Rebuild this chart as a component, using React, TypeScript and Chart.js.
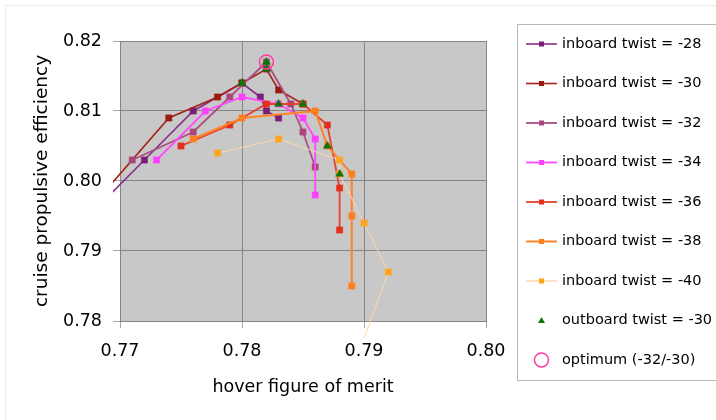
import { useEffect, useRef } from "react";
import { Chart, registerables } from "chart.js";

Chart.register(...registerables);

type Pt = [number, number];

// hover figure of merit (x) vs cruise propulsive efficiency (y), one run per outboard twist
const inboard28: Pt[] = [
  [0.768, 0.796], [0.772, 0.803], [0.776, 0.810], [0.780, 0.814],
  [0.7815, 0.812], [0.782, 0.810], [0.783, 0.809],
];
const inboard30: Pt[] = [
  [0.768, 0.797], [0.774, 0.809], [0.778, 0.812], [0.780, 0.814],
  [0.782, 0.816], [0.783, 0.813], [0.785, 0.811],
];
const inboard32: Pt[] = [
  [0.771, 0.803], [0.776, 0.807], [0.779, 0.812], [0.782, 0.817],
  [0.784, 0.811], [0.785, 0.807], [0.786, 0.802],
];
const inboard34: Pt[] = [
  [0.773, 0.803], [0.777, 0.810], [0.780, 0.812], [0.783, 0.811],
  [0.785, 0.809], [0.786, 0.806], [0.786, 0.798],
];
const inboard36: Pt[] = [
  [0.775, 0.805], [0.779, 0.808], [0.782, 0.811], [0.785, 0.811],
  [0.787, 0.808], [0.788, 0.799], [0.788, 0.793],
];
const inboard38: Pt[] = [
  [0.776, 0.806], [0.780, 0.809], [0.786, 0.810], [0.787, 0.805],
  [0.789, 0.801], [0.789, 0.795], [0.789, 0.785],
];
const inboard40: Pt[] = [
  [0.778, 0.804], [0.783, 0.806], [0.788, 0.803], [0.788, 0.801],
  [0.790, 0.794], [0.792, 0.787], [0.790, 0.7775],
];
const outboard30: Pt[] = [
  [0.780, 0.814], [0.782, 0.816], [0.782, 0.817], [0.783, 0.811],
  [0.785, 0.811], [0.787, 0.805], [0.788, 0.801],
];
const optimum: Pt[] = [[0.782, 0.817]];

const xTickValues = [0.77, 0.78, 0.79, 0.8];
const yTickValues = [0.78, 0.79, 0.8, 0.81, 0.82];

const inboardSeries = [
  { label: "inboard twist = -28", points: inboard28, line: "#8a2c8a", marker: "#7a1f78", width: 1.6 },
  { label: "inboard twist = -30", points: inboard30, line: "#a3241a", marker: "#9a1a10", width: 1.6 },
  { label: "inboard twist = -32", points: inboard32, line: "#ac4e82", marker: "#a8467c", width: 1.8 },
  { label: "inboard twist = -34", points: inboard34, line: "#ff48ff", marker: "#ff40ff", width: 1.8 },
  { label: "inboard twist = -36", points: inboard36, line: "#e8402c", marker: "#e2301c", width: 1.8 },
  { label: "inboard twist = -38", points: inboard38, line: "#ff8226", marker: "#ff7f1e", width: 2 },
  { label: "inboard twist = -40", points: inboard40, line: "#ffd7aa", marker: "#ffa41e", width: 1 },
];

const FONT = '"DejaVu Sans", "Noto Sans", sans-serif';

const toXY = (pts: Pt[]) => pts.map(([x, y]) => ({ x, y }));

// grey plot area plus a faint outer frame
const plotBackground = {
  id: "plotBackground",
  beforeDraw(chart: any) {
    const { ctx, chartArea } = chart;
    ctx.save();
    ctx.strokeStyle = "#ececec";
    ctx.lineWidth = 1;
    ctx.strokeRect(5.5, 5.5, 760, 460);
    ctx.fillStyle = "#c8c8c8";
    ctx.fillRect(chartArea.left, chartArea.top, chartArea.right - chartArea.left, chartArea.bottom - chartArea.top);
    ctx.restore();
  },
};

function drawMarker(ctx: CanvasRenderingContext2D, style: string, x: number, y: number, fill: string, stroke: string) {
  ctx.save();
  if (style === "rect") {
    ctx.fillStyle = fill;
    ctx.fillRect(x - 2.5, y - 2.5, 5, 5);
  } else if (style === "triangle") {
    ctx.fillStyle = fill;
    ctx.beginPath();
    ctx.moveTo(x, y - 3.5);
    ctx.lineTo(x + 3.5, y + 2.5);
    ctx.lineTo(x - 3.5, y + 2.5);
    ctx.closePath();
    ctx.fill();
  } else {
    ctx.strokeStyle = stroke;
    ctx.lineWidth = 1.5;
    ctx.beginPath();
    ctx.arc(x, y, 7, 0, Math.PI * 2);
    ctx.stroke();
  }
  ctx.restore();
}

// boxed legend at the right-hand side
const boxLegend = {
  id: "boxLegend",
  afterDraw(chart: any) {
    const ctx: CanvasRenderingContext2D = chart.ctx;
    ctx.save();
    ctx.strokeStyle = "#b8b8b8";
    ctx.lineWidth = 1;
    ctx.strokeRect(517.5, 24.5, 260, 356);
    ctx.font = `14.5px ${FONT}`;
    ctx.textBaseline = "middle";
    ctx.textAlign = "left";
    chart.data.datasets.forEach((ds: any, i: number) => {
      const y = 44 + i * 39.5;
      if (ds.showLine) {
        ctx.strokeStyle = ds.borderColor;
        ctx.lineWidth = Math.max(1.5, ds.borderWidth);
        ctx.beginPath();
        ctx.moveTo(526, y);
        ctx.lineTo(557, y);
        ctx.stroke();
      }
      drawMarker(ctx, ds.pointStyle, 541.5, y, ds.pointBackgroundColor, ds.pointBorderColor);
      ctx.fillStyle = "#000";
      ctx.fillText(ds.label, 562, y);
    });
    ctx.restore();
  },
};

export default function App() {
  const canvasRef = useRef<HTMLCanvasElement | null>(null);

  useEffect(() => {
    const canvas = canvasRef.current;
    if (!canvas) return;

    const datasets: any[] = inboardSeries.map((s, i) => ({
      label: s.label,
      data: toXY(s.points),
      showLine: true,
      borderColor: s.line,
      borderWidth: s.width,
      backgroundColor: s.marker,
      pointStyle: "rect",
      pointRadius: 4.4,
      pointBorderWidth: 0.5,
      pointBackgroundColor: s.marker,
      pointBorderColor: s.marker,
      clip: { left: 7, top: 0, right: 0, bottom: 25 },
      order: 9 - i,
    }));

    datasets.push({
      label: "outboard twist = -30",
      data: toXY(outboard30),
      showLine: false,
      pointStyle: "triangle",
      pointRadius: 4.6,
      pointBorderWidth: 0.5,
      pointBackgroundColor: "#0c760c",
      pointBorderColor: "#0c760c",
      borderColor: "#0c760c",
      backgroundColor: "#0c760c",
      order: 1,
    });

    datasets.push({
      label: "optimum (-32/-30)",
      data: toXY(optimum),
      showLine: false,
      pointStyle: "circle",
      pointRadius: 7,
      pointBorderWidth: 1.5,
      pointBackgroundColor: "rgba(0,0,0,0)",
      pointBorderColor: "#ff3ca0",
      borderColor: "#ff3ca0",
      backgroundColor: "rgba(0,0,0,0)",
      order: 0,
    });

    const chart = new Chart(canvas, {
      type: "scatter",
      data: { datasets },
      plugins: [plotBackground, boxLegend],
      options: {
        responsive: false,
        animation: false,
        events: [],
        layout: { padding: { left: 0, top: 41, right: 230, bottom: 0 } },
        plugins: { legend: { display: false }, tooltip: { enabled: false } },
        scales: {
          x: {
            type: "linear",
            min: 0.77,
            max: 0.8,
            afterBuildTicks: (axis: any) => {
              axis.ticks = xTickValues.map((v) => ({ value: v }));
            },
            afterFit: (axis: any) => {
              axis.height = 99;
            },
            grid: { color: "#858585", tickColor: "#a8a8a8", tickLength: 7, lineWidth: 1 },
            border: { color: "#858585" },
            ticks: {
              color: "#000",
              padding: 12.5,
              maxRotation: 0,
              font: { family: FONT, size: 17.5 },
              callback: (v: any) => Number(v).toFixed(2),
            },
            title: {
              display: true,
              text: "hover figure of merit",
              color: "#000",
              font: { family: FONT, size: 17.5 },
              padding: { top: 0, bottom: 22.5 },
            },
          },
          y: {
            type: "linear",
            min: 0.78,
            max: 0.82,
            afterBuildTicks: (axis: any) => {
              axis.ticks = yTickValues.map((v) => ({ value: v }));
            },
            afterFit: (axis: any) => {
              axis.width = 120;
            },
            grid: { color: "#858585", tickColor: "#a8a8a8", tickLength: 7, lineWidth: 1 },
            border: { color: "#858585" },
            ticks: {
              color: "#000",
              padding: 11,
              font: { family: FONT, size: 17.5 },
              callback: (v: any) => Number(v).toFixed(2),
            },
            title: {
              display: true,
              text: "cruise propulsive efficiency",
              color: "#000",
              font: { family: FONT, size: 18.5 },
              padding: { top: 31, bottom: 0 },
            },
          },
        },
      } as any,
    });

    return () => chart.destroy();
  }, []);

  return (
    <div style={{ position: "absolute", left: 0, top: 0, width: 716, height: 420, background: "#fff" }}>
      <canvas ref={canvasRef} width={716} height={420} style={{ display: "block" }} />
    </div>
  );
}
